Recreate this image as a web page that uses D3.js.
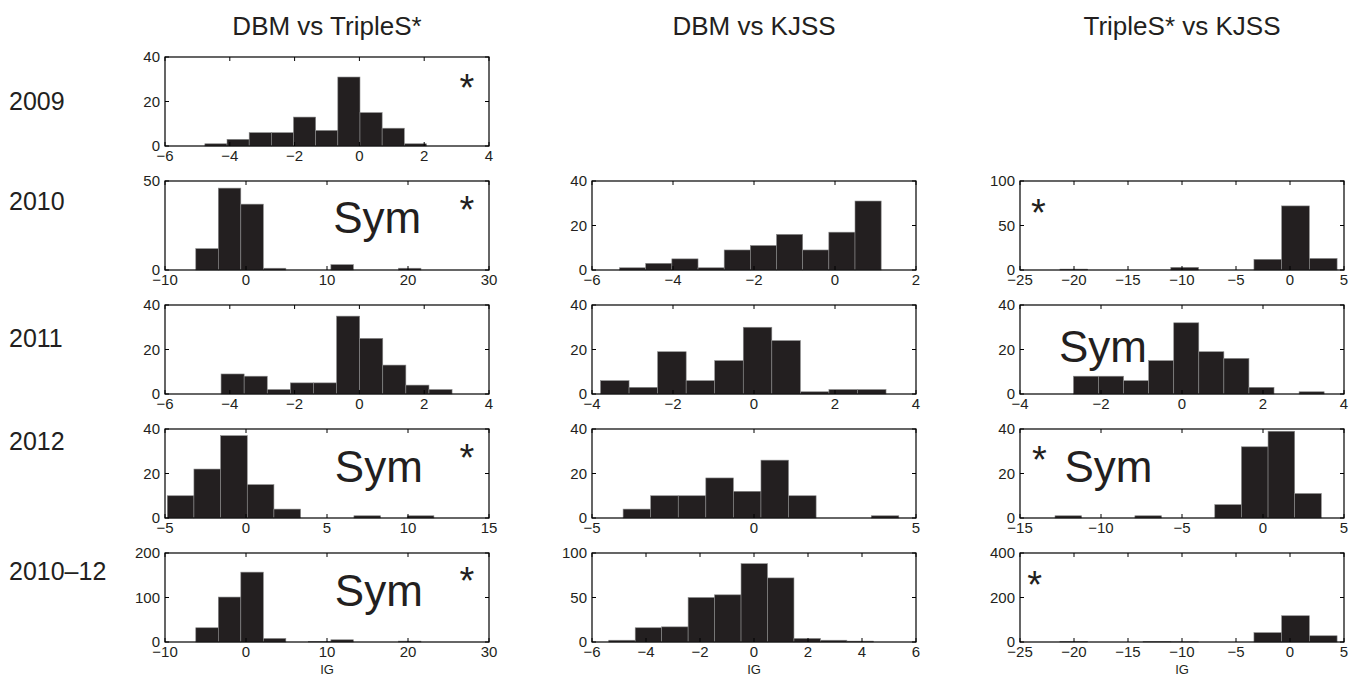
<!DOCTYPE html>
<html>
<head>
<meta charset="utf-8">
<script src="https://cdn.jsdelivr.net/npm/d3@7"></script>
<style>
  body { margin: 0; background: #fff; }
  text { font-family: "Liberation Sans", Arial, sans-serif; fill: #231f20; }
</style>
</head>
<body>
<svg id="chart"></svg>
<script>
/* global d3 */

var columnTitles = ["DBM vs TripleS*", "DBM vs KJSS", "TripleS* vs KJSS"];
var rowLabels = ["2009", "2010", "2011", "2012", "2010\u201312"];

// 10-bin histogram counts and the data range the bins cover
var counts2009DT = [1, 3, 6, 6, 13, 7, 31, 15, 8, 1], range2009DT = [-4.77, 2.07];
var counts2010DT = [12, 46, 37, 1, 0, 0, 3, 0, 0, 1], range2010DT = [-6.2, 21.6];
var counts2010DK = [1, 3, 5, 1, 9, 11, 16, 9, 17, 31], range2010DK = [-5.32, 1.14];
var counts2010TK = [1, 0, 0, 0, 3, 0, 0, 12, 72, 13], range2010TK = [-21.3, 4.36];
var counts2011DT = [9, 8, 2, 5, 5, 35, 25, 13, 4, 2], range2011DT = [-4.27, 2.86];
var counts2011DK = [6, 3, 19, 6, 15, 30, 24, 1, 2, 2], range2011DK = [-3.79, 3.26];
var counts2011TK = [8, 8, 6, 15, 32, 19, 16, 3, 0, 1], range2011TK = [-2.68, 3.51];
var counts2012DT = [10, 22, 37, 15, 4, 0, 0, 1, 0, 1], range2012DT = [-4.86, 11.6];
var counts2012DK = [4, 10, 10, 18, 12, 26, 10, 0, 0, 1], range2012DK = [-4.04, 4.47];
var counts2012TK = [1, 0, 0, 1, 0, 0, 6, 32, 39, 11], range2012TK = [-12.84, 3.6];
var countsAllDT = [32, 101, 157, 8, 0, 1, 5, 0, 0, 2], rangeAllDT = [-6.2, 21.6];
var countsAllDK = [2, 16, 17, 50, 53, 88, 72, 4, 2, 1], rangeAllDK = [-5.38, 4.42];
var countsAllTK = [2, 0, 0, 2, 1, 0, 0, 42, 118, 28], rangeAllTK = [-21.3, 4.36];

// axis limits and tick steps, per row
var xDomainsDT = [[-6, 4], [-10, 30], [-6, 4], [-5, 15], [-10, 30]];
var xDomainsDK = [null, [-6, 2], [-4, 4], [-5, 5], [-6, 6]];
var xDomainsTK = [null, [-25, 5], [-4, 4], [-15, 5], [-25, 5]];
var xStepDT = [2, 10, 2, 5, 10], xStepDK = [null, 2, 2, 5, 2], xStepTK = [null, 5, 2, 5, 5];
var yMaxDT = [40, 50, 40, 40, 200], yMaxDK = [null, 40, 40, 40, 100], yMaxTK = [null, 100, 40, 40, 400];
var yStepDT = [20, 50, 20, 20, 100], yStepDK = [null, 20, 20, 20, 50], yStepTK = [null, 50, 20, 20, 200];

var Chart = Chart || {};
Chart.HistGrid = function (svgEl) {

    var that = {},
        width = 1358,
        height = 681,
        colLeft = [165, 592, 1020],
        rowTop = [57, 181, 305, 429, 553],
        panelW = 324,
        panelH = 89,
        tickLen = 4,
        ink = "#231f20";

    var counts = [
            [counts2009DT, null, null],
            [counts2010DT, counts2010DK, counts2010TK],
            [counts2011DT, counts2011DK, counts2011TK],
            [counts2012DT, counts2012DK, counts2012TK],
            [countsAllDT, countsAllDK, countsAllTK]
        ],
        ranges = [
            [range2009DT, null, null],
            [range2010DT, range2010DK, range2010TK],
            [range2011DT, range2011DK, range2011TK],
            [range2012DT, range2012DK, range2012TK],
            [rangeAllDT, rangeAllDK, rangeAllTK]
        ],
        xDomains = [xDomainsDT, xDomainsDK, xDomainsTK],
        xSteps = [xStepDT, xStepDK, xStepTK],
        yMaxes = [yMaxDT, yMaxDK, yMaxTK],
        ySteps = [yStepDT, yStepDK, yStepTK];

    // "Sym" and "*" marks, placed as fractions of the panel box
    var notes = [
        {r: 0, c: 0, t: "*", fx: 0.932, fy: 0.26},
        {r: 1, c: 0, t: "Sym", fx: 0.655, fy: 0.58, anchor: "middle"},
        {r: 1, c: 0, t: "*", fx: 0.932, fy: 0.24},
        {r: 1, c: 2, t: "*", fx: 0.057, fy: 0.27},
        {r: 2, c: 2, t: "Sym", fx: 0.12, fy: 0.64, anchor: "start"},
        {r: 3, c: 0, t: "Sym", fx: 0.66, fy: 0.6, anchor: "middle"},
        {r: 3, c: 0, t: "*", fx: 0.932, fy: 0.24},
        {r: 3, c: 2, t: "*", fx: 0.06, fy: 0.26},
        {r: 3, c: 2, t: "Sym", fx: 0.137, fy: 0.6, anchor: "start"},
        {r: 4, c: 0, t: "Sym", fx: 0.66, fy: 0.59, anchor: "middle"},
        {r: 4, c: 0, t: "*", fx: 0.932, fy: 0.23},
        {r: 4, c: 2, t: "*", fx: 0.045, fy: 0.27}
    ];

    var svg = d3.select(svgEl).attr("width", width).attr("height", height);

    function ticksOf(domain, step) {
        return d3.range(domain[0], domain[1] + step / 2, step);
    }

    function fmt(v) {
        return v < 0 ? "\u2212" + Math.abs(v) : String(v);
    }

    function drawPanel(r, c) {
        var data = counts[r][c];
        if (!data) { return; }
        var range = ranges[r][c],
            xDom = xDomains[c][r],
            yMax = yMaxes[c][r],
            x = d3.scaleLinear().domain(xDom).range([0, panelW]),
            y = d3.scaleLinear().domain([0, yMax]).range([panelH, 0]),
            binW = (range[1] - range[0]) / data.length,
            bins = data.map(function (n, i) {
                return {x0: range[0] + i * binW, x1: range[0] + (i + 1) * binW, n: n};
            }),
            g = svg.append("g").attr("transform", "translate(" + colLeft[c] + "," + rowTop[r] + ")");

        g.selectAll("rect.bar").data(bins).enter().append("rect")
            .attr("class", "bar")
            .attr("x", function (d) { return x(d.x0); })
            .attr("width", function (d) { return x(d.x1) - x(d.x0); })
            .attr("y", function (d) { return y(d.n); })
            .attr("height", function (d) { return panelH - y(d.n); })
            .attr("fill", ink)
            .attr("stroke", "#8a8a8a")
            .attr("stroke-width", 0.6);

        var xt = ticksOf(xDom, xSteps[c][r]),
            yt = ticksOf([0, yMax], ySteps[c][r]);

        // inward ticks on all four sides, MATLAB box style
        g.selectAll("line.xt").data(xt).enter().append("line")
            .attr("x1", x).attr("x2", x).attr("y1", panelH).attr("y2", panelH - tickLen)
            .attr("stroke", "#000");
        g.selectAll("line.xtt").data(xt).enter().append("line")
            .attr("x1", x).attr("x2", x).attr("y1", 0).attr("y2", tickLen)
            .attr("stroke", "#000");
        g.selectAll("line.yt").data(yt).enter().append("line")
            .attr("x1", 0).attr("x2", tickLen).attr("y1", y).attr("y2", y)
            .attr("stroke", "#000");
        g.selectAll("line.ytr").data(yt).enter().append("line")
            .attr("x1", panelW).attr("x2", panelW - tickLen).attr("y1", y).attr("y2", y)
            .attr("stroke", "#000");

        g.append("rect").attr("width", panelW).attr("height", panelH)
            .attr("fill", "none").attr("stroke", "#000").attr("stroke-width", 1.2);

        g.selectAll("text.xl").data(xt).enter().append("text")
            .attr("x", x).attr("y", panelH + 15)
            .attr("text-anchor", "middle").attr("font-size", 15)
            .text(fmt);
        g.selectAll("text.yl").data(yt).enter().append("text")
            .attr("x", -5).attr("y", function (d) { return y(d) + 5; })
            .attr("text-anchor", "end").attr("font-size", 15)
            .text(fmt);

        if (r === 4) {
            g.append("text").attr("x", panelW / 2).attr("y", panelH + 32)
                .attr("text-anchor", "middle").attr("font-size", 13).text("IG");
        }

        notes.filter(function (n) { return n.r === r && n.c === c; }).forEach(function (n) {
            if (n.t === "*") {
                g.append("text").attr("x", n.fx * panelW).attr("y", n.fy * panelH + 21)
                    .attr("text-anchor", "middle").attr("font-size", 38).text("*");
            } else {
                g.append("text").attr("x", n.fx * panelW).attr("y", n.fy * panelH)
                    .attr("text-anchor", n.anchor).attr("font-size", 44).text("Sym");
            }
        });
    }

    function draw() {
        svg.selectAll("text.title").data(columnTitles).enter().append("text")
            .attr("class", "title")
            .attr("x", function (d, i) { return colLeft[i] + panelW / 2; })
            .attr("y", 35)
            .attr("text-anchor", "middle").attr("font-size", 26)
            .text(function (d) { return d; });

        var labelY = [110, 210, 347, 450, 580];
        svg.selectAll("text.row").data(rowLabels).enter().append("text")
            .attr("class", "row")
            .attr("x", 9).attr("y", function (d, i) { return labelY[i]; })
            .attr("font-size", 25)
            .text(function (d) { return d; });

        for (var r = 0; r < 5; r++) {
            for (var c = 0; c < 3; c++) { drawPanel(r, c); }
        }
    }

    that.draw = draw;
    return that;
};

Chart.HistGrid(document.getElementById("chart")).draw();
</script>
</body>
</html>
